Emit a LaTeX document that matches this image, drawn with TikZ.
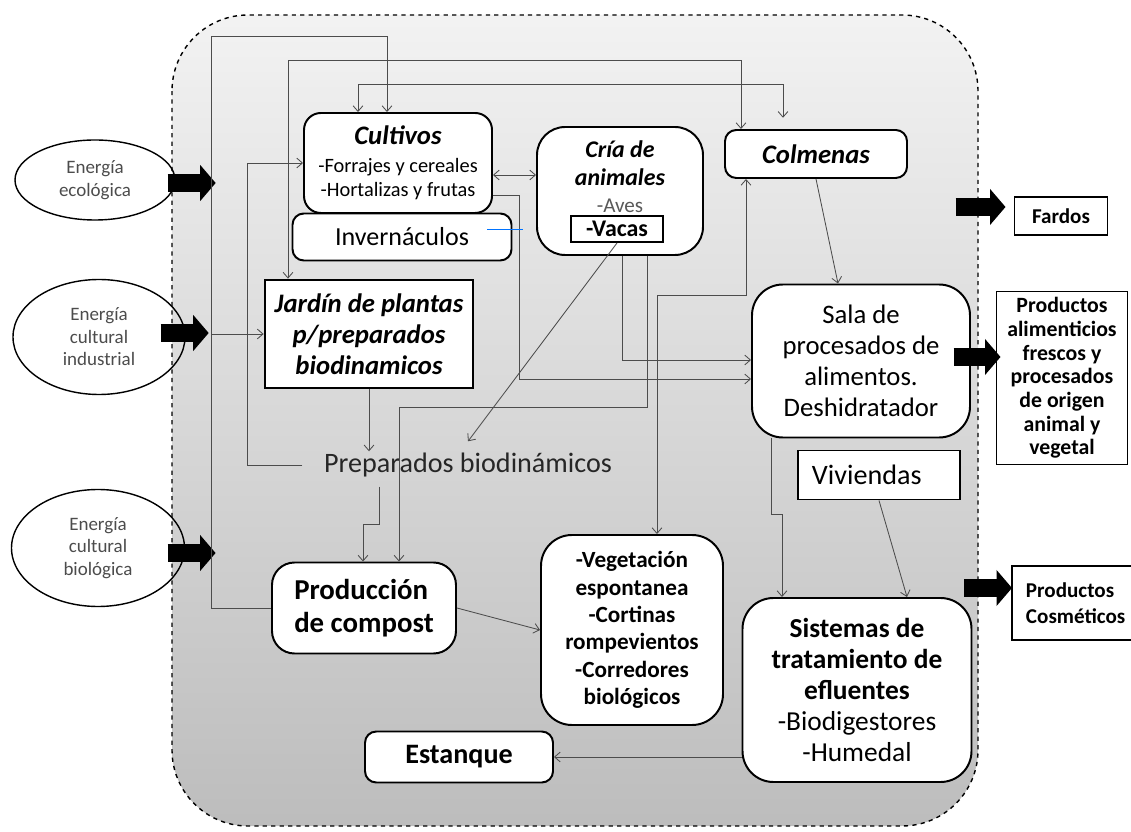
\documentclass[tikz,border=0pt]{standalone}
\usepackage{fontspec}
\setmainfont{Carlito}
\usetikzlibrary{positioning,shapes,arrows.meta,calc}

\tikzset{
  wh/.style 2 args={minimum width=#1*0.025cm, minimum height=#2*0.025cm},
  rbox/.style={draw, line width=1.4pt, fill=white, rounded corners=#1, align=center, inner sep=2pt},
  rbox/.default=10pt,
  sbox/.style={draw, line width=1.4pt, fill=white, align=center, inner sep=2pt},
  energia/.style={draw, ellipse, line width=1pt, inner sep=0pt, align=center, text=black!70,
    font=\fontsize{13.5}{16}\selectfont},
  flujo/.style={draw=black!70, line width=0.6pt, >={Straight Barb[length=4pt,width=7pt]}},
  gruesa/.style={line width=13pt, -{Triangle[length=11pt,width=25pt]}}
}

\begin{document}
\begin{tikzpicture}[x=0.025cm, y=-0.025cm]
    \useasboundingbox (0,0) rectangle (1131,832);

    % Farm boundary
    \shade[top color=black!5, bottom color=black!26, rounded corners=1.9cm] (172,15) rectangle (978,826);
    \draw[dashed, line width=1pt, rounded corners=1.9cm] (172,15) rectangle (978,826);

    % Energy inputs
    \node[energia, wh={160}{80}] (eco) at (95,180) {Energía\\ecológica};
    \node[energia, wh={172}{115}] (ind) at (99,337) {Energía\\cultural\\industrial};
    \node[energia, wh={173}{117}] (bio) at (98,548) {Energía\\cultural\\biológica};

    % Productive units
    \node[rbox=12pt, wh={188}{100}, font=\fontsize{14.5}{17}\selectfont] (cultivos) at (398,163)
        {\textbf{\textit{\fontsize{19}{21}\selectfont Cultivos}}\\[3pt]-Forrajes y cereales\\-Hortalizas y frutas};
    \node[rbox=8pt, wh={219}{47}, font=\fontsize{18.5}{21}\selectfont] (inver) at (402,237) {Invernáculos};
    \node[rbox=20pt, wh={166}{128}] (cria) at (620,191) {};
    \node[align=center, font=\fontsize{17}{19.5}\selectfont] (crialbl) at (620,177)
        {\textbf{\textit{Cría de}}\\\textbf{\textit{animales}}\\{\color{black!65}\fontsize{15}{17}\selectfont -Aves}};
    \node[sbox, inner sep=0pt, wh={92}{26}, font=\bfseries\fontsize{17}{19}\selectfont] (vacas) at (617,229) {-Vacas};
    \node[rbox=8pt, wh={182}{48}, font=\bfseries\itshape\fontsize{19}{22}\selectfont] (colmenas) at (816,154) {Colmenas};
    \node[sbox, line width=2pt, wh={208}{108}, font=\bfseries\itshape\fontsize{19}{22}\selectfont] (jardin) at (369,334)
        {Jardín de plantas\\p/preparados\\biodinamicos};
    \node[inner sep=1pt, text=black!85, font=\fontsize{20}{24}\selectfont] (prep) at (468,465) {Preparados biodinámicos};
    \node[rbox=22pt, wh={218}{153}, font=\fontsize{19}{22}\selectfont] (sala) at (861,361)
        {Sala de\\procesados de\\alimentos.\\Deshidratador};
    \node[sbox, wh={162}{49}, inner xsep=0.35cm, text width=3.35cm, align=left, font=\fontsize{20}{24}\selectfont] (viv) at (879,475) {Viviendas};
    \node[rbox=16pt, wh={184}{91}, align=left, font=\bfseries\fontsize{20.5}{23}\selectfont] (compost) at (364,608) {Producción\\de compost};
    \node[rbox=22pt, wh={182}{190}, font=\bfseries\fontsize{16.5}{19.5}\selectfont] (veg) at (632,630)
        {-Vegetación\\espontanea\\-Cortinas\\rompevientos\\-Corredores\\biológicos};
    \node[rbox=22pt, wh={229}{184}, font=\fontsize{19.5}{22}\selectfont] (sist) at (857,690)
        {\textbf{Sistemas de}\\\textbf{tratamiento de}\\\textbf{efluentes}\\-Biodigestores\\-Humedal};
    \node[rbox=8pt, wh={188}{51}, font=\bfseries\fontsize{20}{23}\selectfont] (estanque) at (459,757) {Estanque};

    % Outputs
    \node[sbox, wh={93}{38}, font=\bfseries\fontsize{15}{18}\selectfont] (fardos) at (1061,216) {Fardos};
    \node[sbox, wh={131}{173}, font=\bfseries\fontsize{15.5}{16.8}\selectfont] (alim) at (1062,378)
        {Productos\\alimenticios\\frescos y\\procesados\\de origen\\animal y\\vegetal};
    \node[sbox, wh={132}{74}, inner xsep=0.35cm, text width=2.6cm, align=left, font=\bfseries\fontsize{15}{18.5}\selectfont] (cosm) at (1078,603)
        {Productos\\Cosméticos};

    % Energy flows in and products out
    \draw[gruesa] ([xshift=-0.2cm, yshift=-0.075cm]eco.east) -- ++(48,0);
    \draw[gruesa] ([xshift=-0.625cm, yshift=0.1cm]ind.east) -- ++(48,0);
    \draw[gruesa] ([xshift=-0.44cm, yshift=-0.125cm]bio.east) -- ++(48,0);
    \draw[gruesa] ($(fardos.west)+(-58,-9)$) -- ++(50,0);
    \draw[gruesa] ($(alim.west)+(-42,-21)$) -- ++(47,0);
    \draw[gruesa] ($(cosm.west)+(-47,-15)$) -- ++(48,0);

    % Left bus
    \draw[flujo, ->] (compost.west) -| (211,36) -| (cultivos.north -| 387,0);
    \draw[flujo, ->] (jardin.west -| 211,0) -- (jardin.west);

    % Top loops
    \draw[flujo, <->] (jardin.north -| 288,0) |- (741,60) -- (colmenas.north -| 741,0);
    \draw[flujo, <->, shorten >=8pt] (cultivos.north -| 358,0) |- (783,84) -- (colmenas.north -| 783,0);
    \draw[flujo, <->] (cultivos.east |- 0,175) -- (cria.west |- 0,175);

    % Biodynamic preparations
    \draw[flujo, ->] ($(prep.west)+(-20,0)$) -| (247,163) -- (cultivos.west |- 0,163);
    \draw[flujo, ->] (jardin.south) -- (prep.north -| jardin.south);
    \draw[flujo, ->] (vacas.south) -- ($(prep.north)+(0,-10)$);
    \draw[flujo, ->] ($(prep.south)+(-89,8)$) |- (363,524) -- (compost.north -| 363,0);
    \draw[flujo, ->] (cria.south -| 647,0) |- (399,407) -- (compost.north -| 399,0);

    % To the processing room
    \draw[flujo, ->] (cultivos.east |- 0,195) -| (519,379) -- (sala.west |- 0,379);
    \draw[flujo, ->] (cria.south -| 622,0) |- (sala.west |- 0,360);
    \draw[flujo, ->] (colmenas.south) -- ($(sala.north)+(-23,0)$);
    \draw[flujo, <->] (veg.north -| 657,0) |- (746,295) -- (colmenas.south -| 746,0);
    \draw[blue!55!cyan, line width=0.6pt] ([xshift=-0.625cm, yshift=0.2cm]inver.east) -- ++(36,0);

    % Effluents and compost
    \draw[flujo, ->] (sala.south -| 771,0) |- (782,514) -- (sist.north -| 782,0);
    \draw[flujo, ->] (viv.south) -- (sist.north -| 907,0);
    \draw[flujo, ->] (compost.east) -- (veg.west |- 0,630);
    \draw[flujo, ->] (sist.west |- 0,757) -- (estanque.east);
\end{tikzpicture}
\end{document}
